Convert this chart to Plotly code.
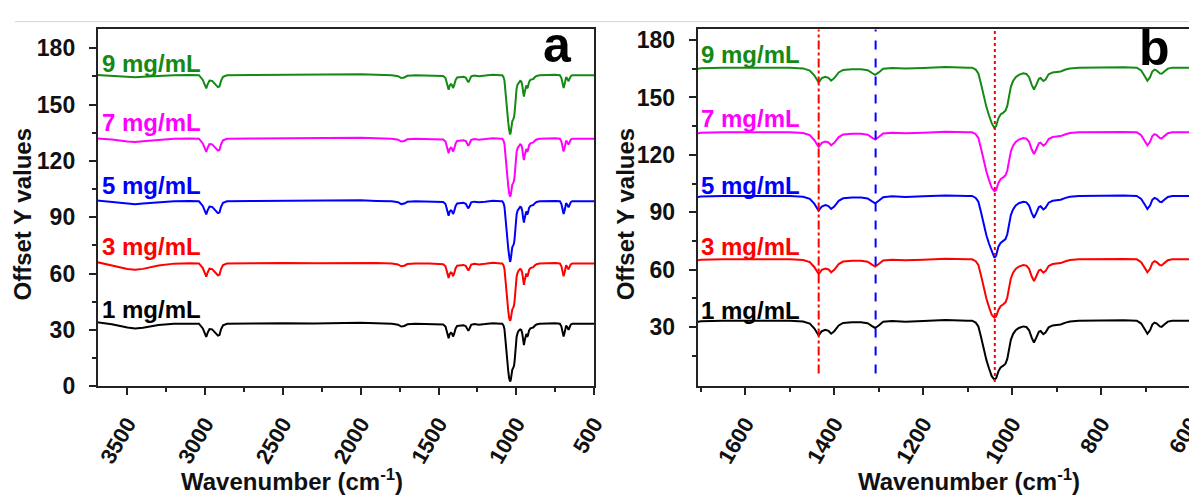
import plotly.graph_objects as go

# ---------------- data ----------------
wavenumber = [3700, 3600, 3500, 3450, 3400, 3300, 3200, 3100, 3040, 3015,
              3000, 2993, 2985, 2972, 2955, 2935, 2918, 2908, 2898, 2885,
              2860, 2700, 2500, 2300, 2100, 2000, 1900, 1800, 1760, 1740,
              1720, 1700, 1650, 1560, 1500, 1470, 1455, 1445, 1435, 1428,
              1420, 1413, 1407, 1400, 1390, 1380, 1360, 1340, 1325, 1315,
              1308, 1300, 1290, 1270, 1240, 1200, 1150, 1100, 1090, 1082,
              1076, 1070, 1064, 1058, 1052, 1046, 1040, 1036, 1031, 1026,
              1020, 1015, 1011, 1007, 1003, 998, 992, 985, 975, 968,
              962, 956, 951, 946, 940, 936, 930, 925, 918, 909,
              900, 891, 880, 870, 850, 800, 750, 720, 710, 702,
              696, 690, 685, 680, 675, 668, 664, 658, 650, 640,
              600, 500]

c1 = [34.2, 33.0, 31.3, 30.8, 31.2, 32.6, 33.3, 33.4, 33.3, 30.8,
      27.3, 26.3, 28.3, 30.5, 30.3, 28.8, 27.0, 27.3, 30.3, 32.5,
      33.3, 33.4, 33.6, 33.4, 33.6, 33.8, 33.5, 33.3, 32.8, 31.8,
      32.1, 33.0, 33.3, 33.3, 33.3, 32.9, 31.8, 29.3, 25.6, 27.8,
      28.5, 28.0, 26.5, 27.8, 30.8, 32.1, 32.5, 32.5, 32.0, 30.5,
      29.5, 30.8, 32.7, 33.1, 32.8, 33.1, 33.6, 33.3, 33.3, 32.3,
      30.3, 24.8, 18.3, 12.8, 8.3, 4.3, 2.5, 3.2, 6.8, 8.8,
      9.8, 10.8, 13.3, 18.3, 23.3, 26.3, 28.3, 29.5, 30.3, 30.0,
      28.3, 24.3, 21.9, 24.3, 27.5, 27.9, 26.3, 27.1, 29.8, 30.8,
      31.1, 31.3, 32.3, 32.9, 33.3, 33.5, 33.5, 33.3, 31.8, 28.8,
      26.5, 28.3, 31.3, 32.3, 31.8, 30.3, 30.1, 31.3, 32.8, 33.3,
      33.3, 33.3]

c3 = [66.2, 64.5, 62.4, 62.0, 62.5, 64.3, 65.3, 65.5, 65.4, 62.9,
      59.4, 58.4, 60.4, 62.6, 62.4, 60.9, 59.1, 59.4, 62.4, 64.6,
      65.4, 65.5, 65.7, 65.5, 65.7, 65.9, 65.6, 65.4, 64.9, 63.9,
      64.2, 65.1, 65.4, 65.4, 65.4, 65.0, 63.9, 61.4, 57.7, 59.9,
      60.6, 60.1, 58.6, 59.9, 62.9, 64.2, 64.6, 64.6, 64.1, 62.6,
      61.6, 62.9, 64.8, 65.2, 64.9, 65.2, 65.7, 65.4, 65.4, 64.4,
      62.4, 56.9, 50.4, 44.9, 40.4, 36.4, 34.9, 35.6, 38.9, 40.9,
      41.9, 42.9, 45.4, 50.4, 55.4, 58.4, 60.4, 61.6, 62.4, 62.1,
      60.4, 56.4, 54.0, 56.4, 59.6, 60.0, 58.4, 59.2, 61.9, 62.9,
      63.2, 63.4, 64.4, 65.0, 65.4, 65.6, 65.6, 65.4, 63.9, 60.9,
      58.6, 60.4, 63.4, 64.4, 63.9, 62.4, 62.2, 63.4, 64.9, 65.4,
      65.4, 65.4]

c5 = [98.9, 98.2, 97.2, 96.9, 97.3, 98.0, 98.5, 98.6, 98.5, 96.0,
      92.5, 91.5, 93.5, 95.7, 95.5, 94.0, 92.2, 92.5, 95.5, 97.7,
      98.5, 98.6, 98.8, 98.6, 98.8, 99.0, 98.7, 98.5, 98.0, 97.0,
      97.3, 98.2, 98.5, 98.5, 98.5, 98.1, 97.0, 94.5, 90.8, 93.0,
      93.7, 93.2, 91.7, 93.0, 96.0, 97.3, 97.7, 97.7, 97.2, 95.7,
      94.7, 96.0, 97.9, 98.3, 98.0, 98.3, 98.8, 98.5, 98.5, 97.5,
      95.5, 90.0, 83.5, 78.0, 73.5, 69.5, 66.2, 67.4, 72.0, 74.0,
      75.0, 76.0, 78.5, 83.5, 88.5, 91.5, 93.5, 94.7, 95.5, 95.2,
      93.5, 89.5, 87.1, 89.5, 92.7, 93.1, 91.5, 92.3, 95.0, 96.0,
      96.3, 96.5, 97.5, 98.1, 98.5, 98.7, 98.7, 98.5, 97.0, 94.0,
      91.7, 93.5, 96.5, 97.5, 97.0, 95.5, 95.3, 96.5, 98.0, 98.5,
      98.5, 98.5]

c7 = [132.0, 131.4, 130.3, 130.0, 130.4, 131.3, 131.8, 131.9, 131.8, 129.3,
      125.8, 124.8, 126.8, 129.0, 128.8, 127.3, 125.5, 125.8, 128.8, 131.0,
      131.8, 131.9, 132.1, 131.9, 132.1, 132.3, 132.0, 131.8, 131.3, 130.3,
      130.6, 131.5, 131.8, 131.8, 131.8, 131.4, 130.3, 127.8, 124.1, 126.3,
      127.0, 126.5, 125.0, 126.3, 129.3, 130.6, 131.0, 131.0, 130.5, 129.0,
      128.0, 129.3, 131.2, 131.6, 131.3, 131.6, 132.1, 131.8, 131.8, 130.8,
      128.8, 123.3, 116.8, 111.3, 106.8, 102.8, 101.0, 101.6, 105.3, 107.3,
      108.3, 109.3, 111.8, 116.8, 121.8, 124.8, 126.8, 128.0, 128.8, 128.5,
      126.8, 122.8, 120.4, 122.8, 126.0, 126.4, 124.8, 125.6, 128.3, 129.3,
      129.6, 129.8, 130.8, 131.4, 131.8, 132.0, 132.0, 131.8, 130.3, 127.3,
      125.0, 126.8, 129.8, 130.8, 130.3, 128.8, 128.6, 129.8, 131.3, 131.8,
      131.8, 131.8]

c9 = [165.8, 165.3, 164.7, 164.5, 164.8, 165.3, 165.6, 165.7, 165.6, 163.1,
      159.6, 158.6, 160.6, 162.8, 162.6, 161.1, 159.3, 159.6, 162.6, 164.8,
      165.6, 165.7, 165.9, 165.7, 165.9, 166.1, 165.8, 165.6, 165.1, 164.1,
      164.4, 165.3, 165.6, 165.6, 165.6, 165.2, 164.1, 161.6, 157.9, 160.1,
      160.8, 160.3, 158.8, 160.1, 163.1, 164.4, 164.8, 164.8, 164.3, 162.8,
      161.8, 163.1, 165.0, 165.4, 165.1, 165.4, 165.9, 165.6, 165.6, 164.6,
      162.6, 157.1, 150.6, 145.1, 140.6, 136.6, 134.0, 135.1, 139.1, 141.1,
      142.1, 143.1, 145.6, 150.6, 155.6, 158.6, 160.6, 161.8, 162.6, 162.3,
      160.6, 156.6, 154.2, 156.6, 159.8, 160.2, 158.6, 159.4, 162.1, 163.1,
      163.4, 163.6, 164.6, 165.2, 165.6, 165.8, 165.8, 165.6, 164.1, 161.1,
      158.8, 160.6, 163.6, 164.6, 164.1, 162.6, 162.4, 163.6, 165.1, 165.6,
      165.6, 165.6]

series_names = ["1 mg/mL", "3 mg/mL", "5 mg/mL", "7 mg/mL", "9 mg/mL"]
series_values = [c1, c3, c5, c7, c9]
series_colors = ["#000000", "#ff0000", "#0000ff", "#ff00ff", "#148a14"]

ref_lines = [1435, 1307, 1039]          # wavenumbers of the marker lines in panel b
ref_colors = ["#ff0000", "#0000ff", "#ff0000"]
ref_dash = ["dashdot", "dash", "dot"]

y_ticks_a = [0, 30, 60, 90, 120, 150, 180]
y_ticks_b = [30, 60, 90, 120, 150, 180]

# ---------------- figure ----------------
W, H = 1197, 497
def px_x(p): return p / W
def px_y(p): return 1 - p / H

FONT = "Liberation Sans, Arial, sans-serif"
fig = go.Figure()

for name, vals, col in zip(series_names, series_values, series_colors):
    for xa, ya in (("x", "y"), ("x2", "y2")):
        fig.add_trace(go.Scatter(x=wavenumber, y=vals, mode="lines", name=name,
                                 line=dict(color=col, width=2), xaxis=xa, yaxis=ya,
                                 showlegend=False, hoverinfo="skip"))

axis_common = dict(showline=True, linewidth=2, linecolor="#222", ticks="outside",
                   ticklen=7, tickwidth=2, tickcolor="#222", showgrid=False,
                   zeroline=False)
ytickfont = dict(family=FONT, size=23, color="#111", weight="bold")
xtickfont = dict(family=FONT, size=22, color="#111", weight="bold")

ydom = [px_y(388), px_y(20)]
fig.update_layout(
    width=W, height=H, margin=dict(l=0, r=0, t=0, b=0),
    paper_bgcolor="white", plot_bgcolor="white", showlegend=False,
    xaxis=dict(domain=[px_x(89), px_x(592)], range=[3690, 500], anchor="y",
               tickmode="linear", tick0=500, dtick=500, tickangle=-60,
               ticklabelstandoff=7, mirror=True, tickfont=xtickfont,
               minor=dict(dtick=250, tick0=500, ticklen=4, tickwidth=2,
                          ticks="outside", tickcolor="#222"),
               **axis_common),
    yaxis=dict(domain=ydom, range=[0, 190], anchor="x", tickvals=y_ticks_a,
               ticklabelstandoff=9, mirror=True, tickfont=ytickfont,
               minor=dict(dtick=15, tick0=0, ticklen=4, tickwidth=2,
                          ticks="outside", tickcolor="#222"),
               **axis_common),
    xaxis2=dict(domain=[px_x(697), 1.0], range=[1707, 598], anchor="y2",
                tickmode="linear", tick0=600, dtick=200, tickangle=-60,
                ticklabelstandoff=7, mirror=True, tickfont=xtickfont,
                minor=dict(dtick=100, tick0=600, ticklen=4, tickwidth=2,
                           ticks="outside", tickcolor="#222"),
                **axis_common),
    yaxis2=dict(domain=ydom, range=[-1, 185.6], anchor="x2", tickvals=y_ticks_b,
                ticklabelstandoff=9, mirror=False, tickfont=ytickfont,
                minor=dict(tickvals=[15, 45, 75, 105, 135, 165], ticklen=4,
                           tickwidth=2, ticks="outside", tickcolor="#222"),
                **axis_common),
)

# marker lines in panel b
for xv, col, dsh in zip(ref_lines, ref_colors, ref_dash):
    y0 = 0.012 if dsh == "dot" else 0.036
    fig.add_shape(type="line", xref="x2", yref="y2 domain", x0=xv, x1=xv,
                  y0=y0, y1=1, line=dict(color=col, width=2, dash=dsh),
                  layer="above")

# top separator line
fig.add_shape(type="line", xref="paper", yref="paper", x0=px_x(5), x1=1,
              y0=px_y(12), y1=px_y(12), line=dict(color="#d4d4d4", width=1))

annots = []
# series labels
lab_y_a = [309, 244, 181, 116, 55]
lab_y_b = [310, 244, 181, 112, 46]
for name, col, ya, yb in zip(series_names, series_colors, lab_y_a, lab_y_b):
    for xp, yp in ((91, ya), (698, yb)):
        annots.append(dict(x=px_x(xp), y=px_y(yp), xref="paper", yref="paper",
                           text=name, showarrow=False, xanchor="left",
                           yanchor="middle",
                           font=dict(family=FONT, size=24, color=col, weight="bold")))
# panel letters
for t, xp, yp in (("a", 555, 67), ("b", 1160, 70)):
    annots.append(dict(x=px_x(xp), y=px_y(yp), xref="paper", yref="paper", text=t,
                       showarrow=False, xanchor="center", yanchor="bottom",
                       font=dict(family=FONT, size=50, color="#000", weight="bold")))
# axis titles
for xp in (13, 624):
    annots.append(dict(x=px_x(xp), y=px_y(210), xref="paper", yref="paper",
                       text="Offset Y values", textangle=-90, showarrow=False,
                       xanchor="center", yanchor="middle",
                       font=dict(family=FONT, size=24, color="#111", weight="bold")))
for xp in (286, 972):
    annots.append(dict(x=px_x(xp), y=px_y(485), xref="paper", yref="paper",
                       text="Wavenumber (cm<sup>-1</sup>)", showarrow=False,
                       xanchor="center", yanchor="middle",
                       font=dict(family=FONT, size=24, color="#111", weight="bold")))
fig.update_layout(annotations=annots)

fig.write_html("out.html")
